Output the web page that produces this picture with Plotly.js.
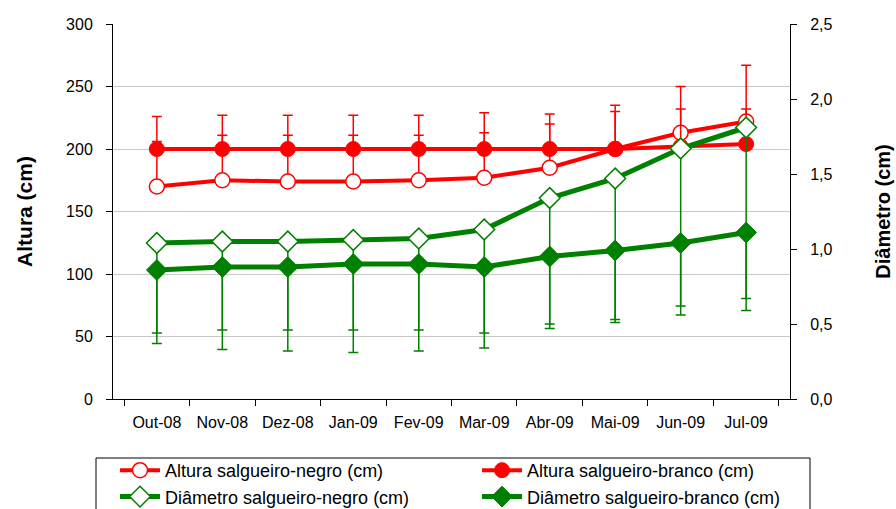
<!DOCTYPE html>
<html>
<head>
<meta charset="utf-8">
<script src="https://cdn.plot.ly/plotly-3.0.1.min.js"></script>
<style>html,body{margin:0;padding:0;background:#fff;overflow:hidden;}#chart{width:896px;height:534px;}</style>
</head>
<body>
<div id="chart"></div>
<script>
var months = ["Out-08","Nov-08","Dez-08","Jan-09","Fev-09","Mar-09","Abr-09","Mai-09","Jun-09","Jul-09"];

var alturaNegro = [170, 175, 174, 174, 175, 177, 185, 200, 213, 222];
var alturaNegroErr = [36, 36, 37, 37, 36, 36, 35, 35, 37, 45];
var alturaBranco = [200, 200, 200, 200, 200, 200, 200, 200, 202, 204];
var alturaBrancoErr = [26, 27, 27, 27, 27, 29, 28, 30, 30, 28];

var diamNegro = [1.04, 1.05, 1.05, 1.06, 1.07, 1.13, 1.34, 1.47, 1.67, 1.81];
var diamNegroErr = [0.67, 0.72, 0.73, 0.75, 0.75, 0.79, 0.87, 0.96, 1.11, 1.22];
var diamBranco = [0.86, 0.88, 0.88, 0.90, 0.90, 0.88, 0.95, 0.99, 1.04, 1.11];
var diamBrancoErr = [0.42, 0.42, 0.42, 0.44, 0.44, 0.44, 0.45, 0.46, 0.42, 0.44];

var names = ["Altura salgueiro-negro (cm)", "Altura salgueiro-branco (cm)",
             "Diâmetro salgueiro-negro (cm)", "Diâmetro salgueiro-branco (cm)"];

var RED = "#FF0000", GREEN = "#008000";
var zeros = months.map(function(){ return 0; });
var FONT = "Arial, 'Liberation Sans', sans-serif";

var traces = [
  {x: months, y: alturaNegro, name: names[0], type: "scatter", mode: "lines+markers", legend: "legend",
   line: {color: RED, width: 4},
   marker: {symbol: "circle", size: 15, color: "#FFFFFF", line: {color: RED, width: 1.5}},
   error_y: {type: "data", symmetric: false, array: alturaNegroErr, arrayminus: zeros,
             color: RED, thickness: 1.5, width: 5}},
  {x: months, y: alturaBranco, name: names[1], type: "scatter", mode: "lines+markers", legend: "legend2",
   line: {color: RED, width: 4},
   marker: {symbol: "circle", size: 15, color: RED, line: {color: RED, width: 1}},
   error_y: {type: "data", symmetric: false, array: alturaBrancoErr, arrayminus: zeros,
             color: RED, thickness: 1.5, width: 5}},
  {x: months, y: diamNegro, name: names[2], type: "scatter", mode: "lines+markers", yaxis: "y2", legend: "legend",
   line: {color: GREEN, width: 5},
   marker: {symbol: "diamond", size: 16, color: "#FFFFFF", line: {color: GREEN, width: 1.5}},
   error_y: {type: "data", symmetric: false, array: zeros, arrayminus: diamNegroErr,
             color: GREEN, thickness: 1.5, width: 5}},
  {x: months, y: diamBranco, name: names[3], type: "scatter", mode: "lines+markers", yaxis: "y2", legend: "legend2",
   line: {color: GREEN, width: 5},
   marker: {symbol: "diamond", size: 16, color: GREEN, line: {color: GREEN, width: 1}},
   error_y: {type: "data", symmetric: false, array: zeros, arrayminus: diamBrancoErr,
             color: GREEN, thickness: 1.5, width: 5}}
];

var legendBase = {
  orientation: "v", xanchor: "left", yanchor: "top", y: -0.1413,
  borderwidth: 0, bgcolor: "rgba(0,0,0,0)",
  font: {family: FONT, size: 18, color: "#000000"},
  itemwidth: 40, traceorder: "normal", tracegroupgap: 0
};
var legend1 = Object.assign({}, legendBase, {x: 0.003});
var legend2 = Object.assign({}, legendBase, {x: 0.5377});

// plot area: x 113..790, y 24..399 (height 375)
var layout = {
  width: 896, height: 534,
  margin: {l: 113, r: 106, t: 24, b: 135, pad: 0},
  paper_bgcolor: "#FFFFFF", plot_bgcolor: "#FFFFFF",
  separators: ",.",
  font: {family: FONT, size: 16, color: "#000000"},
  showlegend: true,
  legend: legend1,
  legend2: legend2,
  shapes: [
    {type: "rect", xref: "paper", yref: "paper",
     x0: -17/677, x1: 697/677, y0: -130/375, y1: -59/375,
     line: {color: "#000000", width: 1}, fillcolor: "rgba(0,0,0,0)", layer: "below"}
  ],
  xaxis: {
    type: "category", tickson: "boundaries", ticks: "outside", ticklen: 6, tickcolor: "#000",
    showline: true, linecolor: "#000", linewidth: 1, showgrid: false,
    tickfont: {family: FONT, size: 16}, ticklabelstandoff: 9
  },
  yaxis: {
    range: [0, 300], dtick: 50, tick0: 0, ticks: "outside", ticklen: 6, tickcolor: "#000",
    showline: true, linecolor: "#000", linewidth: 1, zeroline: false,
    showgrid: true, gridcolor: "#C8C8C8", gridwidth: 1,
    tickfont: {family: FONT, size: 16}, ticklabelstandoff: 10,
    title: {text: "<b>Altura (cm)</b>", font: {family: FONT, size: 21}, standoff: 27}
  },
  yaxis2: {
    range: [0, 2.5], dtick: 0.5, tick0: 0, tickformat: ".1f", overlaying: "y", side: "right",
    ticks: "outside", ticklen: 6, tickcolor: "#000",
    showline: true, linecolor: "#000", linewidth: 1, zeroline: false, showgrid: false,
    tickfont: {family: FONT, size: 16}, ticklabelstandoff: 10,
    title: {text: "<b>Diâmetro (cm)</b>", font: {family: FONT, size: 20}, standoff: 44}
  }
};

Plotly.newPlot("chart", traces, layout, {displayModeBar: false, staticPlot: true});
</script>
</body>
</html>
